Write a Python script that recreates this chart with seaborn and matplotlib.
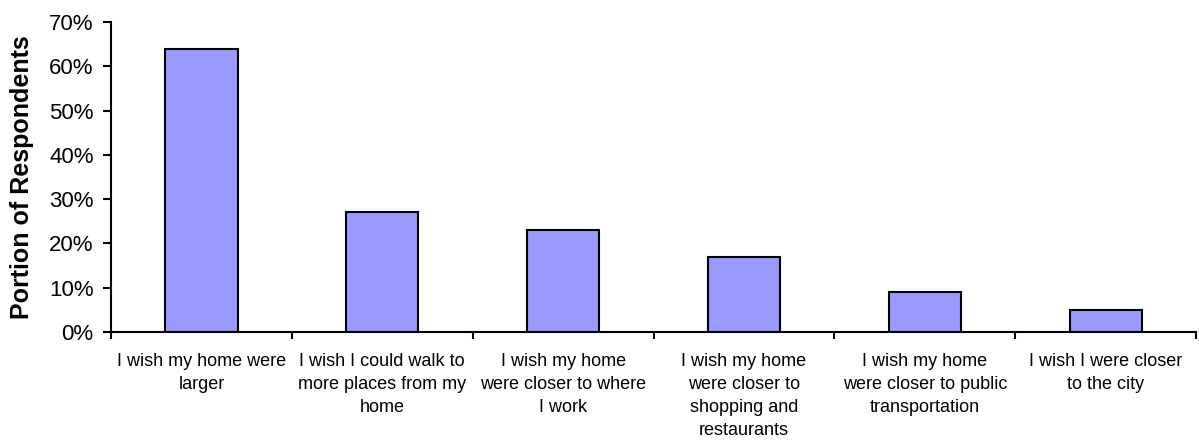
import matplotlib
matplotlib.use("Agg")
import matplotlib.pyplot as plt
import seaborn as sns
import pandas as pd
from matplotlib.ticker import FuncFormatter, FixedLocator

categories = [
    "I wish my home were\nlarger",
    "I wish I could walk to\nmore places from my\nhome",
    "I wish my home\nwere closer to where\nI work",
    "I wish my home\nwere closer to\nshopping and\nrestaurants",
    "I wish my home\nwere closer to public\ntransportation",
    "I wish I were closer\nto the city",
]
values = [0.64, 0.27, 0.23, 0.17, 0.09, 0.05]
y_ticks = [0, 0.1, 0.2, 0.3, 0.4, 0.5, 0.6, 0.7]

sns.set_theme(style="white")
plt.rcParams['font.family'] = ['Liberation Sans', 'DejaVu Sans']

df = pd.DataFrame({"cat": categories, "val": values})

fig = plt.figure(figsize=(11.99, 4.41), dpi=100)
ax = fig.add_axes([0.0926, 0.2472, 0.905, 0.7028])
sns.barplot(data=df, x="cat", y="val", color="#9999FF", saturation=1,
            width=0.4, edgecolor="black", linewidth=1.5, ax=ax)

ax.set_xlim(-0.5, len(categories) - 0.5)
ax.set_ylim(0, 0.7)
ax.set_yticks(y_ticks)
ax.yaxis.set_major_formatter(FuncFormatter(lambda v, p: f"{round(v*100)}%"))
ax.tick_params(axis="y", left=True, length=5.5, width=1.5, direction="out",
               labelsize=16, colors="black", pad=7)
ax.tick_params(axis="x", which="major", bottom=False, labelsize=13, pad=9, colors="black")
ax.xaxis.set_minor_locator(FixedLocator([i - 0.5 for i in range(len(categories) + 1)]))
ax.tick_params(axis="x", which="minor", bottom=True, length=5, width=1.5, direction="out", color="black")
for lbl in ax.get_xticklabels():
    lbl.set_linespacing(1.46)
    lbl.set_color("black")
for lbl in ax.get_yticklabels():
    lbl.set_color("black")

ax.set_xlabel("")
ax.set_ylabel("Portion of Respondents", fontsize=18, fontweight="bold", color="black", va="center")
ax.yaxis.set_label_coords(-0.082, 0.5)
for s in ["top", "right"]:
    ax.spines[s].set_visible(False)
for s in ["left", "bottom"]:
    ax.spines[s].set_color("black")
    ax.spines[s].set_linewidth(1.5)

fig.savefig("out.png", dpi=100)
